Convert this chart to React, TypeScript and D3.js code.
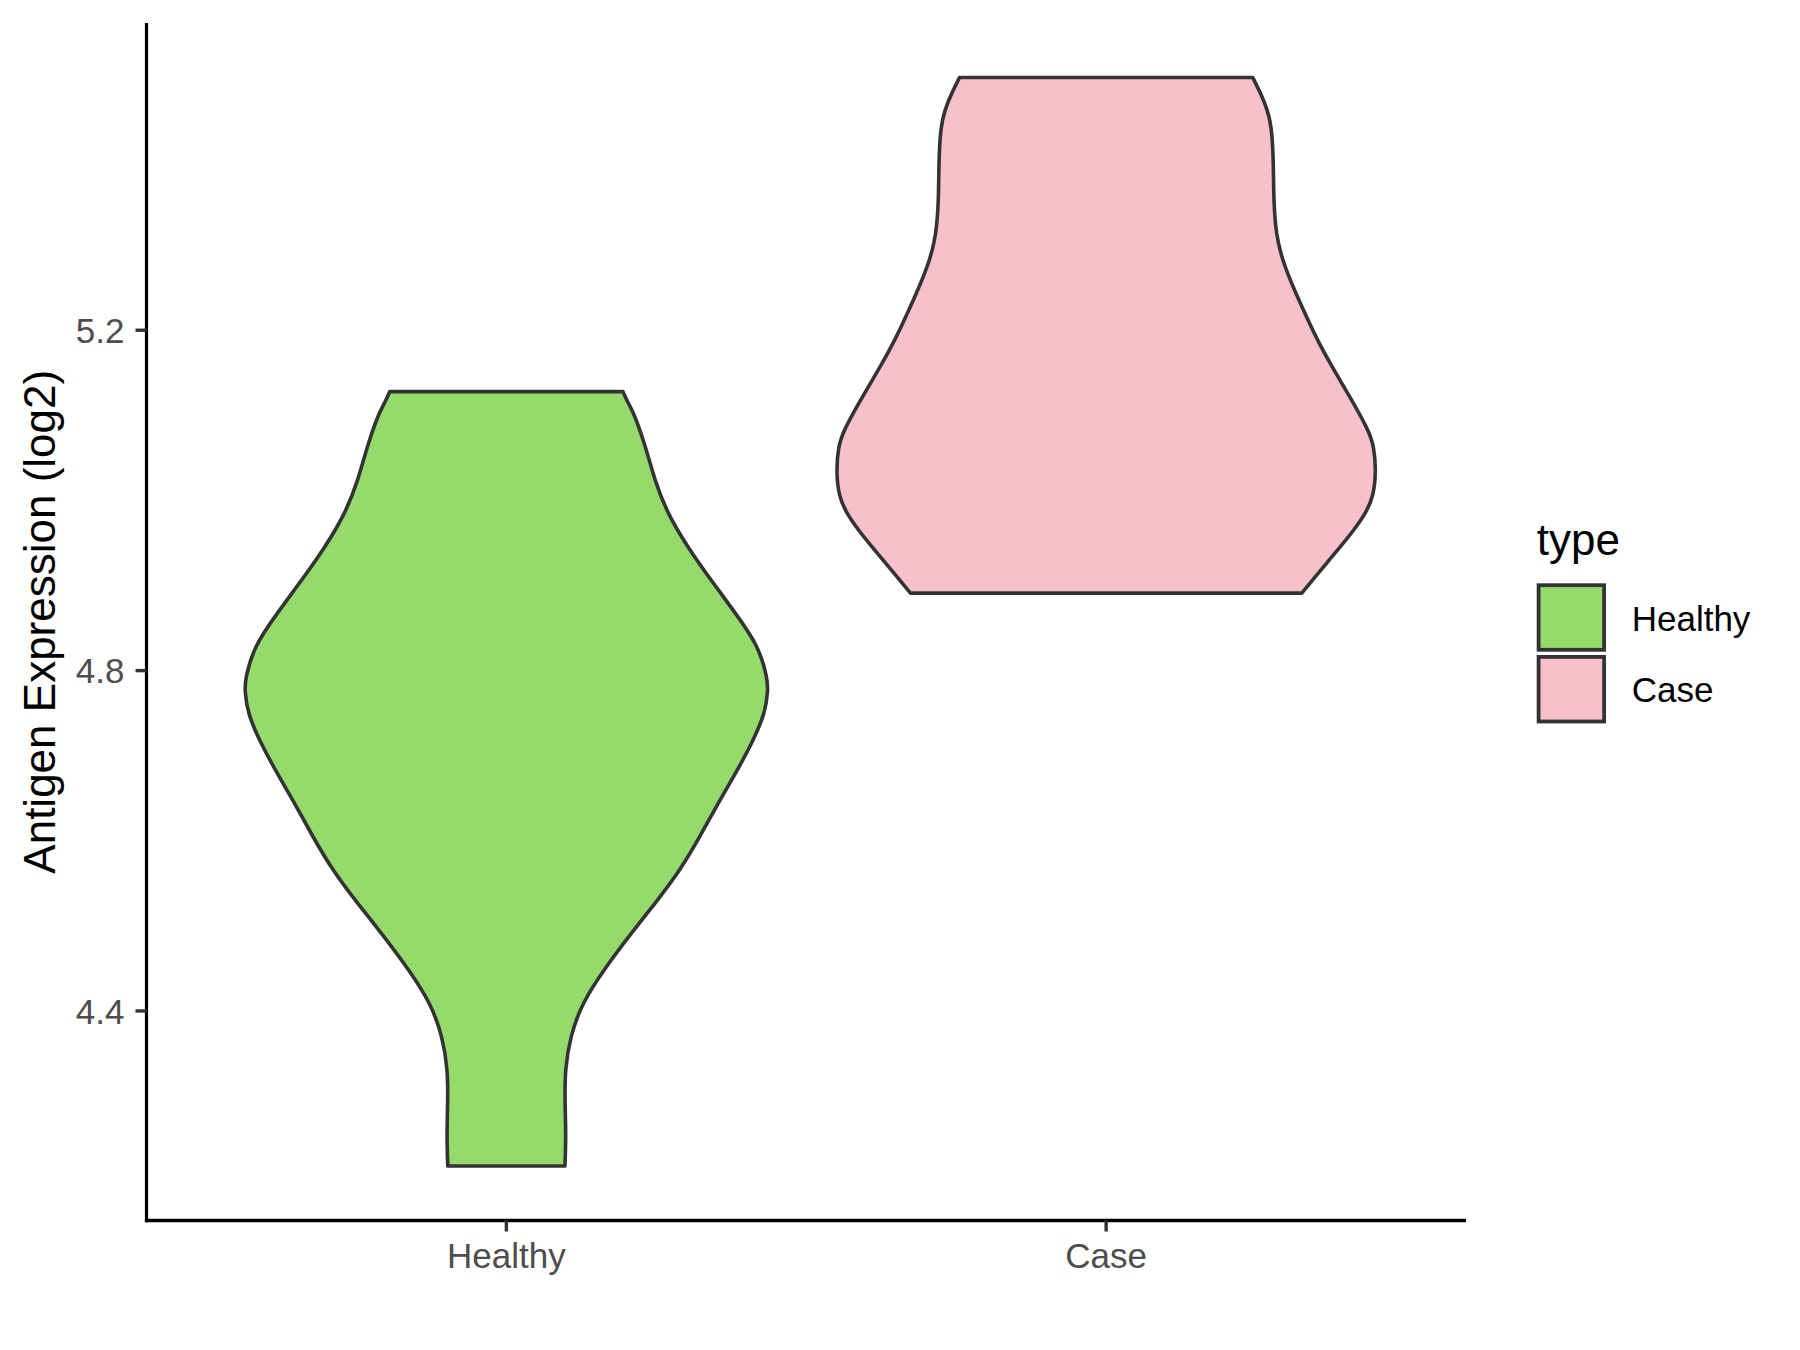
import React from "react";
import * as d3 from "d3";

// ---- data ----
const categories = ["Healthy", "Case"];
const fillColors = ["#94DB6C", "#F7C0CB"];
const yTicks = [4.4, 4.8, 5.2];
const legendTitle = "type";
const yTitle = "Antigen Expression (log2)";

// violin profiles: expression value and relative half-width (1 = widest violin)
const healthyValues = [5.1279, 5.115, 5.1025, 5.0633, 5.0242, 4.9851, 4.9459, 4.9067, 4.8676, 4.8284, 4.7893, 4.7776, 4.7502, 4.711, 4.6719, 4.6445, 4.6053, 4.5662, 4.5271, 4.4879, 4.4487, 4.4096, 4.3704, 4.3313, 4.2922, 4.253, 4.2177];
const healthyWidths = [0.432, 0.450, 0.473, 0.516, 0.549, 0.596, 0.670, 0.757, 0.849, 0.936, 0.968, 0.969, 0.960, 0.905, 0.836, 0.785, 0.718, 0.646, 0.553, 0.454, 0.362, 0.281, 0.237, 0.217, 0.217, 0.221, 0.217];

const caseValues = [5.4971, 5.4783, 5.4587, 5.4391, 5.4, 5.3609, 5.3217, 5.3022, 5.2826, 5.2629, 5.2435, 5.2238, 5.2042, 5.1886, 5.1612, 5.122, 5.0829, 5.0633, 5.0321, 5.0046, 4.9851, 4.9655, 4.9459, 4.9264, 4.9067, 4.8911];
const caseWidths = [0.543, 0.573, 0.598, 0.613, 0.620, 0.620, 0.627, 0.638, 0.654, 0.677, 0.703, 0.731, 0.759, 0.783, 0.829, 0.903, 0.972, 0.993, 1.0, 0.990, 0.962, 0.919, 0.869, 0.817, 0.766, 0.725];

const profiles = [
  { values: healthyValues, widths: healthyWidths },
  { values: caseValues, widths: caseWidths },
];

export default function App() {
  const W = 1800;
  const H = 1350;
  const left = 146.5;
  const right = 1466;
  const top = 23;
  const bottom = 1220.5;

  const allVals = [...healthyValues, ...caseValues];
  const vMin = d3.min(allVals) as number;
  const vMax = d3.max(allVals) as number;
  const pad = (vMax - vMin) * 0.05;

  const y = d3.scaleLinear().domain([vMin - pad, vMax + pad]).range([bottom, top]);
  const x = d3.scalePoint<string>().domain(categories).range([left, right]).padding(0.6);
  const step = x.step();
  const maxHalf = 0.45 * step;

  const tickColor = "#333333";
  const font = "'Liberation Sans', Arial, Helvetica, sans-serif";

  return (
    <svg
      width={W}
      height={H}
      style={{ position: "absolute", left: 0, top: 0, background: "#fff" }}
      fontFamily={font}
    >
      <rect x={0} y={0} width={W} height={H} fill="#ffffff" />

      {/* violins */}
      {categories.map((c, i) => {
        const cx = x(c) as number;
        const pts = profiles[i].values.map((v, k) => ({ v, w: profiles[i].widths[k] }));
        const area = d3
          .area<{ v: number; w: number }>()
          .y((d) => y(d.v))
          .x0((d) => cx - d.w * maxHalf)
          .x1((d) => cx + d.w * maxHalf)
          .curve(d3.curveBasis);
        return (
          <path
            key={c}
            d={area(pts) as string}
            fill={fillColors[i]}
            stroke="#333333"
            strokeWidth={3.6}
            strokeLinejoin="round"
          />
        );
      })}

      {/* axes */}
      <line x1={left} x2={left} y1={top} y2={bottom + 1.75} stroke="#000" strokeWidth={3.2} />
      <line x1={left - 1.6} x2={right} y1={bottom} y2={bottom} stroke="#000" strokeWidth={3.5} />

      {yTicks.map((t) => (
        <g key={t}>
          <line x1={left - 11} x2={left} y1={y(t)} y2={y(t)} stroke={tickColor} strokeWidth={3.4} />
          <text
            x={left - 22}
            y={y(t)}
            dy="0.36em"
            textAnchor="end"
            fontSize={35}
            fill="#4D4D4D"
          >
            {t.toFixed(1)}
          </text>
        </g>
      ))}

      {categories.map((c) => (
        <g key={c}>
          <line x1={x(c)} x2={x(c)} y1={bottom} y2={bottom + 11} stroke={tickColor} strokeWidth={3.4} />
          <text x={x(c)} y={1267.5} textAnchor="middle" fontSize={35} fill="#4D4D4D">
            {c}
          </text>
        </g>
      ))}

      <text
        transform={`translate(55, ${(top + bottom) / 2}) rotate(-90)`}
        textAnchor="middle"
        fontSize={44}
        fill="#000"
      >
        {yTitle}
      </text>

      {/* legend */}
      <text x={1536.7} y={554.5} fontSize={44} fill="#000">
        {legendTitle}
      </text>
      {categories.map((c, i) => (
        <g key={c}>
          <rect
            x={1538.6}
            y={585.2 + i * 71.7}
            width={65.5}
            height={64.6}
            fill={fillColors[i]}
            stroke="#333333"
            strokeWidth={3.8}
          />
          <text x={1631.7} y={631 + i * 71.3} fontSize={35} fill="#000">
            {c}
          </text>
        </g>
      ))}
    </svg>
  );
}
